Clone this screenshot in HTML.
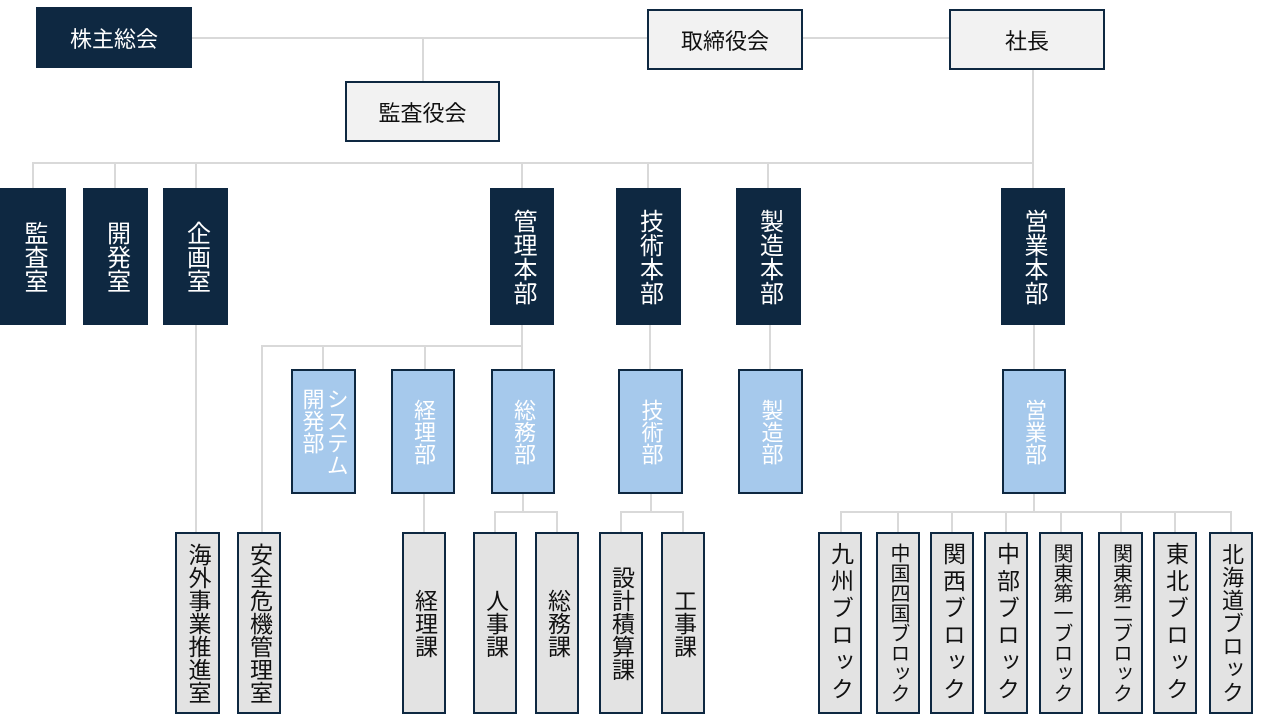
<!DOCTYPE html>
<html><head><meta charset="utf-8"><style>
body{margin:0;width:1280px;height:720px;background:#fff;position:relative;overflow:hidden;font-family:"Liberation Sans","Noto Sans CJK JP",sans-serif}
.b{position:absolute;box-sizing:border-box;display:flex;align-items:center;justify-content:center}
.d{background:#0e2841;color:#fff}
.g{background:#f2f2f2;border:2px solid #0e2841;color:#111}
.l{background:#a6c9ec;border:2px solid #0e2841;color:#fff}
.c{background:#e3e3e3;border:2px solid #0e2841;color:#111}
.v{writing-mode:vertical-rl;line-height:1}
.h{position:absolute;background:#d9d9d9}
</style></head><body>
<div class="h" style="left:192px;top:37px;width:757px;height:2px"></div>
<div class="h" style="left:422px;top:38px;width:2px;height:43px"></div>
<div class="h" style="left:1032px;top:70px;width:2px;height:118px"></div>
<div class="h" style="left:32px;top:162px;width:1002px;height:2px"></div>
<div class="h" style="left:32px;top:163px;width:2px;height:25px"></div>
<div class="h" style="left:114px;top:163px;width:2px;height:25px"></div>
<div class="h" style="left:195px;top:163px;width:2px;height:25px"></div>
<div class="h" style="left:521px;top:163px;width:2px;height:25px"></div>
<div class="h" style="left:647px;top:163px;width:2px;height:25px"></div>
<div class="h" style="left:767px;top:163px;width:2px;height:25px"></div>
<div class="h" style="left:195px;top:325px;width:2px;height:207px"></div>
<div class="h" style="left:521px;top:325px;width:2px;height:44px"></div>
<div class="h" style="left:261px;top:345px;width:262px;height:2px"></div>
<div class="h" style="left:261px;top:346px;width:2px;height:186px"></div>
<div class="h" style="left:322px;top:346px;width:2px;height:23px"></div>
<div class="h" style="left:424px;top:346px;width:2px;height:23px"></div>
<div class="h" style="left:649px;top:325px;width:2px;height:44px"></div>
<div class="h" style="left:769px;top:325px;width:2px;height:44px"></div>
<div class="h" style="left:1033px;top:325px;width:2px;height:44px"></div>
<div class="h" style="left:423px;top:494px;width:2px;height:38px"></div>
<div class="h" style="left:522px;top:494px;width:2px;height:18px"></div>
<div class="h" style="left:494px;top:511px;width:64px;height:2px"></div>
<div class="h" style="left:494px;top:512px;width:2px;height:20px"></div>
<div class="h" style="left:556px;top:512px;width:2px;height:20px"></div>
<div class="h" style="left:650px;top:494px;width:2px;height:18px"></div>
<div class="h" style="left:620px;top:511px;width:64px;height:2px"></div>
<div class="h" style="left:620px;top:512px;width:2px;height:20px"></div>
<div class="h" style="left:682px;top:512px;width:2px;height:20px"></div>
<div class="h" style="left:1033px;top:494px;width:2px;height:18px"></div>
<div class="h" style="left:840px;top:511px;width:392px;height:2px"></div>
<div class="h" style="left:840px;top:512px;width:2px;height:20px"></div>
<div class="h" style="left:897px;top:512px;width:2px;height:20px"></div>
<div class="h" style="left:951px;top:512px;width:2px;height:20px"></div>
<div class="h" style="left:1005px;top:512px;width:2px;height:20px"></div>
<div class="h" style="left:1060px;top:512px;width:2px;height:20px"></div>
<div class="h" style="left:1120px;top:512px;width:2px;height:20px"></div>
<div class="h" style="left:1174px;top:512px;width:2px;height:20px"></div>
<div class="h" style="left:1230px;top:512px;width:2px;height:20px"></div>
<div class="b d" style="left:36px;top:7px;width:156px;height:61px;font-size:22px">株主総会</div>
<div class="b g" style="left:647px;top:9px;width:156px;height:61px;font-size:22px">取締役会</div>
<div class="b g" style="left:949px;top:9px;width:156px;height:61px;font-size:22px">社長</div>
<div class="b g" style="left:345px;top:81px;width:155px;height:61px;font-size:22px">監査役会</div>
<div class="b d v" style="left:0;top:188px;width:66px;height:137px;font-size:24px">監査室</div>
<div class="b d v" style="left:83px;top:188px;width:65px;height:137px;font-size:24px">開発室</div>
<div class="b d v" style="left:163px;top:188px;width:65px;height:137px;font-size:24px">企画室</div>
<div class="b d v" style="left:490px;top:188px;width:64px;height:137px;font-size:24px">管理本部</div>
<div class="b d v" style="left:616px;top:188px;width:65px;height:137px;font-size:24px">技術本部</div>
<div class="b d v" style="left:736px;top:188px;width:65px;height:137px;font-size:24px">製造本部</div>
<div class="b d v" style="left:1001px;top:188px;width:64px;height:137px;font-size:24px">営業本部</div>
<div class="b l v" style="left:291px;top:369px;width:65px;height:125px;font-size:22px;line-height:1.1">システム<br>開発部</div>
<div class="b l v" style="left:391px;top:369px;width:64px;height:125px;font-size:22px">経理部</div>
<div class="b l v" style="left:491px;top:369px;width:64px;height:125px;font-size:22px">総務部</div>
<div class="b l v" style="left:618px;top:369px;width:65px;height:125px;font-size:22px">技術部</div>
<div class="b l v" style="left:738px;top:369px;width:65px;height:125px;font-size:22px">製造部</div>
<div class="b l v" style="left:1002px;top:369px;width:64px;height:125px;font-size:22px">営業部</div>
<div class="b c v" style="left:175px;top:532px;width:45px;height:182px;font-size:23px">海外事業推進室</div>
<div class="b c v" style="left:237px;top:532px;width:44px;height:182px;font-size:23px">安全危機管理室</div>
<div class="b c v" style="left:402px;top:532px;width:44px;height:182px;font-size:23px">経理課</div>
<div class="b c v" style="left:473px;top:532px;width:44px;height:182px;font-size:23px">人事課</div>
<div class="b c v" style="left:535px;top:532px;width:44px;height:182px;font-size:23px">総務課</div>
<div class="b c v" style="left:599px;top:532px;width:44px;height:182px;font-size:23px">設計積算課</div>
<div class="b c v" style="left:661px;top:532px;width:44px;height:182px;font-size:23px">工事課</div>
<div class="b c v" style="left:818px;top:532px;width:44px;height:182px;font-size:23px;letter-spacing:4px">九州ブロック</div>
<div class="b c v" style="left:876px;top:532px;width:44px;height:182px;font-size:20px">中国四国ブロック</div>
<div class="b c v" style="left:930px;top:532px;width:44px;height:182px;font-size:23px;letter-spacing:4px">関西ブロック</div>
<div class="b c v" style="left:984px;top:532px;width:44px;height:182px;font-size:23px;letter-spacing:4px">中部ブロック</div>
<div class="b c v" style="left:1039px;top:532px;width:44px;height:182px;font-size:20px">関東第一ブロック</div>
<div class="b c v" style="left:1098px;top:532px;width:45px;height:182px;font-size:20px">関東第二ブロック</div>
<div class="b c v" style="left:1153px;top:532px;width:44px;height:182px;font-size:23px;letter-spacing:4px">東北ブロック</div>
<div class="b c v" style="left:1209px;top:532px;width:44px;height:182px;font-size:22px;letter-spacing:1px">北海道ブロック</div>
</body></html>
